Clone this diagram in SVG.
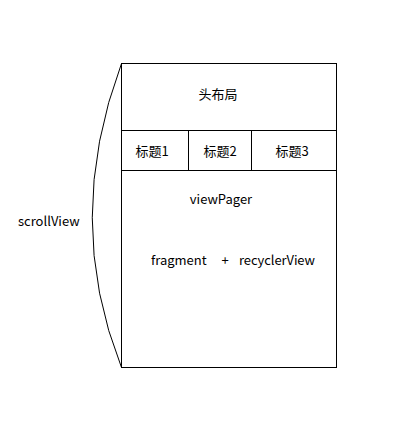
<svg xmlns="http://www.w3.org/2000/svg" width="403" height="425" viewBox="0 0 403 425">
<style>
.ln{fill:none;stroke:#000;stroke-width:1}
text{font-family:"Microsoft YaHei","Noto Sans CJK SC","Noto Sans",sans-serif;font-size:13px;fill:#000}
.m{text-anchor:middle}
</style>
<rect width="403" height="425" fill="#fff"/>
<g id="connectors">
<path class="ln" d="M121.5,63.5 Q63,220 121.5,367.5"/>
</g>
<g id="container">
<rect class="ln" x="121.5" y="63.5" width="215" height="304"/>
</g>
<g id="header">
<line class="ln" x1="121.5" y1="130.5" x2="336.5" y2="130.5"/>
<text class="m" x="218" y="99">头布局</text>
</g>
<g id="tabs">
<line class="ln" x1="121.5" y1="170.5" x2="336.5" y2="170.5"/>
<line class="ln" x1="188.5" y1="130.5" x2="188.5" y2="170.5"/>
<line class="ln" x1="251.5" y1="130.5" x2="251.5" y2="170.5"/>
<text class="m" x="152" y="156">标题1</text>
<text class="m" x="220" y="156">标题2</text>
<text class="m" x="292" y="156">标题3</text>
</g>
<g id="viewpager">
<text class="m" x="221" y="204">viewPager</text>
<text x="151" y="265">fragment</text>
<text class="m" x="225" y="265">+</text>
<text x="239" y="265" textLength="76">recyclerView</text>
</g>
<g id="scrollview">
<text x="18" y="226">scrollView</text>
</g>
</svg>
